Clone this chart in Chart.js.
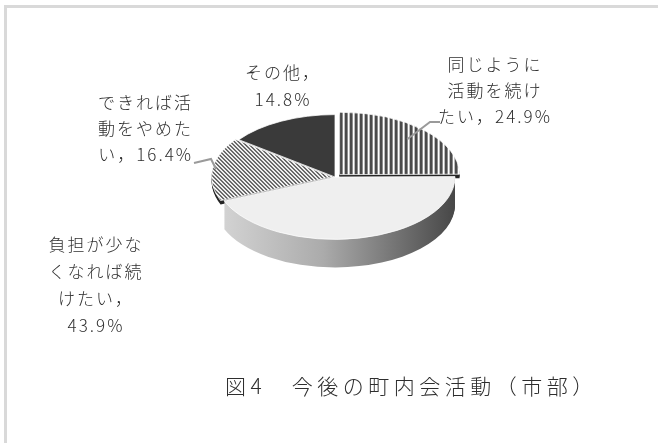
<!DOCTYPE html>
<html lang="ja">
<head>
<meta charset="UTF-8" />
<title>今後の町内会活動（市部）</title>
<style>
  html, body { margin: 0; padding: 0; background: #fff; }
  canvas { display: block; }
</style>
</head>
<body>
<canvas id="pie" width="658" height="443"></canvas>
<script src="https://cdn.jsdelivr.net/npm/chart.js@4.4.1/dist/chart.umd.min.js"></script>
<script>
// data
const categories = ['同じように活動を続けたい', '負担が少なくなれば続けたい', 'できれば活動をやめたい', 'その他'];
const shares = [24.9, 43.9, 16.4, 14.8];
const explode = [26, 0, 12, 0];
const titleText = '図4　今後の町内会活動（市部）';

function pct(i) { return shares[i].toFixed(1) + '%'; }

// label lines, broken like the original
const labelLines = [
  ['同じように', '活動を続け', 'たい，' + pct(0)],
  ['負担が少な', 'くなれば続', 'けたい，', pct(1)],
  ['できれば活', '動をやめた', 'い，' + pct(2)],
  ['その他，', pct(3)]
];

// layout
const FONT = '"Noto Sans CJK JP", "Noto Sans", sans-serif';
const R = 120;
const squash = 0.52;
const depth = 28;
const liftedDepth = 4;   // exploded slices only show a thin wall
const labelPos = [
  { x: 495, y: 65, lh: 26, align: 'center', lead: [[430, 122], [440, 122]], at: 0.8 },
  { x: 96, y: 245, lh: 27, align: 'center' },
  { x: 193, y: 103, lh: 26, align: 'right', lead: [[211, 159], [194, 163]], at: 0.97 },
  { x: 283, y: 73, lh: 27, align: 'center' }
];

function makePattern(draw, size) {
  const c = document.createElement('canvas');
  c.width = size; c.height = size;
  const g = c.getContext('2d');
  g.fillStyle = '#fff';
  g.fillRect(0, 0, size, size);
  draw(g, size);
  const p = document.createElement('canvas').getContext('2d').createPattern(c, 'repeat');
  p.setTransform(new DOMMatrix([1, 0, 0, 1 / squash, 0, 0]));
  return p;
}

const stripes = makePattern((g, s) => {
  g.fillStyle = '#4a4a4a';
  g.fillRect(0, 0, 3, s);
}, 5);

const hatch = makePattern((g, s) => {
  g.fillStyle = '#5a5a5a';
  for (let y = 0; y < s; y++) {
    for (let x = 0; x < s; x++) {
      if ((x - y + s) % s < 2) g.fillRect(x, y, 1, 1);
    }
  }
}, 4);

// where the element really sits (same shift as ArcElement.draw)
function arcShift(a) {
  const mid = (a.startAngle + a.endAngle) / 2;
  const off = (a.options.offset || 0) / 4;
  const fix = 1 - Math.sin(Math.min(Math.PI, a.circumference || 0));
  const d = off + off * fix;
  return { x: a.x + Math.cos(mid) * d, y: a.y + Math.sin(mid) * d, mid: mid };
}

function wedge(ctx, a) {
  const s = arcShift(a);
  ctx.beginPath();
  ctx.moveTo(s.x, s.y);
  ctx.arc(s.x, s.y, a.outerRadius, a.startAngle, a.endAngle);
  ctx.closePath();
  ctx.fill();
}

const pie3d = {
  id: 'pie3d',
  beforeDraw(chart) {
    const ctx = chart.ctx;
    ctx.save();
    ctx.fillStyle = '#fff';
    ctx.fillRect(0, 0, chart.width, chart.height);
    ctx.fillStyle = '#d9d9d9';
    ctx.fillRect(4, 5, chart.width - 4, 3);
    ctx.fillRect(4, 5, 3, chart.height - 5);
    ctx.restore();
  },
  beforeDatasetsDraw(chart) {
    const ctx = chart.ctx;
    const arcs = chart.getDatasetMeta(0).data;
    const cy = arcs[0].y;
    const grad = ctx.createLinearGradient(arcs[0].x - R, 0, arcs[0].x + R, 0);
    grad.addColorStop(0, '#d6d6d6');
    grad.addColorStop(0.45, '#ababab');
    grad.addColorStop(1, '#474747');
    ctx.save();
    for (let d = depth; d >= 1; d--) {
      ctx.setTransform(1, 0, 0, squash, 0, cy * (1 - squash) + d);
      arcs.forEach(a => {
        const lifted = (a.options.offset || 0) > 0;
        if (lifted && d > liftedDepth) return;
        ctx.fillStyle = lifted ? '#262626' : grad;
        wedge(ctx, a);
      });
    }
    ctx.restore();
    ctx.save();
    ctx.setTransform(1, 0, 0, squash, 0, cy * (1 - squash));
  },
  afterDatasetsDraw(chart) {
    chart.ctx.restore();
  },
  afterDraw(chart) {
    const ctx = chart.ctx;
    const arcs = chart.getDatasetMeta(0).data;
    const cy = arcs[0].y;
    ctx.save();
    // leader lines
    ctx.strokeStyle = '#9a9a9a';
    ctx.lineWidth = 2;
    labelPos.forEach((p, i) => {
      if (!p.lead) return;
      const a = arcs[i];
      const s = arcShift(a);
      const r = a.outerRadius * p.at;
      const x0 = s.x + Math.cos(s.mid) * r;
      const y0 = cy + squash * (s.y + Math.sin(s.mid) * r - cy);
      ctx.beginPath();
      ctx.moveTo(x0, y0);
      p.lead.forEach(pt => ctx.lineTo(pt[0], pt[1]));
      ctx.stroke();
    });
    // labels
    ctx.fillStyle = '#2e2e2e';
    ctx.font = '300 17px ' + FONT;
    ctx.letterSpacing = '2px';
    ctx.textBaseline = 'middle';
    labelLines.forEach((lines, i) => {
      const p = labelPos[i];
      ctx.textAlign = p.align;
      lines.forEach((t, j) => ctx.fillText(t, p.x, p.y + j * p.lh));
    });
    // figure caption
    ctx.font = '300 21px ' + FONT;
    ctx.letterSpacing = '4.5px';
    ctx.textAlign = 'left';
    ctx.fillText(titleText, 225, 386);
    ctx.restore();
  }
};

const ctx = document.getElementById('pie');
const chart = new Chart(ctx, {
  type: 'pie',
  data: {
    labels: categories,
    datasets: [{
      data: shares,
      backgroundColor: [stripes, '#efefef', hatch, '#3a3a3a'],
      borderColor: '#ffffff',
      borderWidth: 1,
      offset: explode,
      hoverOffset: 0
    }]
  },
  options: {
    responsive: false,
    devicePixelRatio: 1,
    animation: false,
    events: [],
    radius: R,
    layout: { padding: { left: 112, right: 100, top: 20, bottom: 109 } },
    plugins: {
      legend: { display: false },
      tooltip: { enabled: false },
      title: { display: false }
    }
  },
  plugins: [pie3d]
});
</script>
</body>
</html>
